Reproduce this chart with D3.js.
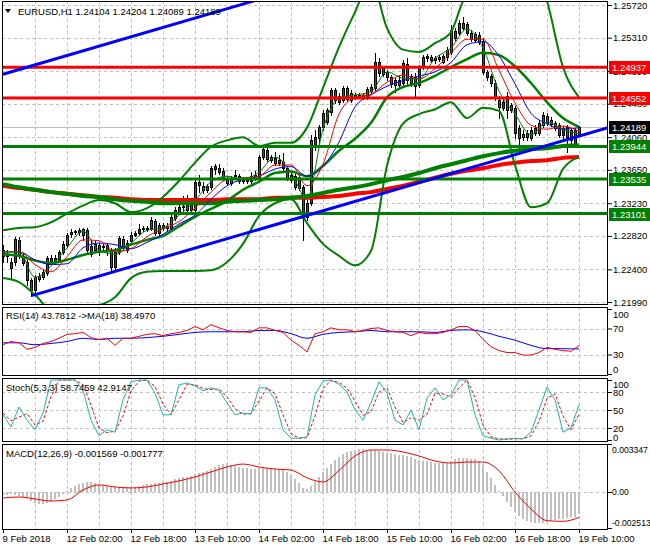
<!DOCTYPE html>
<html>
<head>
<meta charset="utf-8">
<script src="https://cdnjs.cloudflare.com/ajax/libs/d3/7.8.5/d3.min.js"></script>
<style>
  body { margin: 0; background: #fff; }
  text { font-family: "Liberation Sans", Arial, sans-serif; font-size: 9.5px; }
</style>
</head>
<body>
<div id="chart"></div>
<script>
// EURUSD H1, bars 9 Feb 2018 10:00 .. 19 Feb 2018 10:00
var open = [
  1.2264,1.2257,1.2242,1.2249,1.2277,1.2257,1.2249,1.2227,1.2214,1.2228,
  1.2230,1.2235,1.2251,1.2254,1.2252,1.2262,1.2271,1.2284,1.2287,1.2287,
  1.2283,1.2289,1.2269,1.2272,1.2264,1.2269,1.2271,1.2264,1.2243,1.2262,
  1.2278,1.2273,1.2275,1.2283,1.2286,1.2291,1.2292,1.2292,1.2301,1.2296,
  1.2296,1.2292,1.2292,1.2305,1.2313,1.2318,1.2322,1.2315,1.2315,1.2350,
  1.2345,1.2340,1.2343,1.2366,1.2367,1.2364,1.2355,1.2348,1.2357,1.2357,
  1.2352,1.2351,1.2351,1.2355,1.2355,1.2381,1.2390,1.2377,1.2380,1.2377,
  1.2375,1.2367,1.2359,1.2357,1.2356,1.2343,1.2306,1.2323,1.2394,1.2405,
  1.2419,1.2425,1.2438,1.2453,1.2458,1.2453,1.2468,1.2462,1.2456,1.2459,
  1.2459,1.2456,1.2464,1.2468,1.2500,1.2493,1.2488,1.2482,1.2478,1.2472,
  1.2474,1.2498,1.2483,1.2482,1.2472,1.2494,1.2506,1.2507,1.2503,1.2504,
  1.2500,1.2507,1.2513,1.2539,1.2537,1.2543,1.2548,1.2537,1.2536,1.2534,
  1.2527,1.2488,1.2483,1.2474,1.2453,1.2443,1.2458,1.2446,1.2443,1.2418,
  1.2410,1.2406,1.2405,1.2411,1.2411,1.2421,1.2433,1.2428,1.2424,1.2421,
  1.2409,1.2419,1.2415,1.2396,1.24104];
var high = [
  1.2271,1.2264,1.2254,1.2281,1.2281,1.2261,1.2252,1.2229,1.2233,1.2235,
  1.2239,1.2257,1.2258,1.2258,1.2264,1.2275,1.2286,1.2291,1.2289,1.2292,
  1.2292,1.2292,1.2275,1.2275,1.2273,1.2272,1.2273,1.2267,1.2267,1.2282,
  1.2282,1.2277,1.2287,1.2288,1.2297,1.2294,1.2294,1.2306,1.2303,1.2298,
  1.2298,1.2298,1.2308,1.2318,1.2327,1.2332,1.2333,1.2323,1.2355,1.2359,
  1.2350,1.2347,1.2370,1.2372,1.2372,1.2367,1.2357,1.2357,1.2365,1.2360,
  1.2356,1.2355,1.2362,1.2364,1.2384,1.2394,1.2392,1.2384,1.2387,1.2384,
  1.2386,1.2370,1.2361,1.2360,1.2359,1.2346,1.2327,1.2409,1.2415,1.2421,
  1.2440,1.2443,1.2468,1.2468,1.2462,1.2470,1.2470,1.2465,1.2462,1.2462,
  1.2462,1.2469,1.2473,1.2512,1.2506,1.2495,1.2490,1.2484,1.2480,1.2483,
  1.2503,1.2506,1.2485,1.2487,1.2497,1.2509,1.2511,1.2509,1.2508,1.2509,
  1.2511,1.2519,1.2547,1.2543,1.2553,1.2557,1.2551,1.2541,1.2538,1.2538,
  1.2531,1.2490,1.2485,1.2478,1.2458,1.2455,1.2463,1.2449,1.2445,1.2421,
  1.2415,1.2415,1.2419,1.2421,1.2428,1.2438,1.2436,1.2431,1.2426,1.2424,
  1.2420,1.2421,1.2418,1.2418,1.24204];
var low = [
  1.2249,1.2249,1.2228,1.2245,1.2254,1.2245,1.2220,1.2207,1.2212,1.2225,
  1.2228,1.2233,1.2247,1.2247,1.2249,1.2259,1.2268,1.2281,1.2284,1.2283,
  1.2277,1.2262,1.2257,1.2262,1.2258,1.2264,1.2258,1.2235,1.2239,1.2259,
  1.2264,1.2262,1.2272,1.2282,1.2283,1.2288,1.2288,1.2289,1.2283,1.2283,
  1.2289,1.2288,1.2289,1.2302,1.2311,1.2315,1.2312,1.2312,1.2312,1.2337,
  1.2336,1.2337,1.2341,1.2360,1.2360,1.2352,1.2346,1.2346,1.2355,1.2348,
  1.2348,1.2348,1.2348,1.2352,1.2352,1.2379,1.2376,1.2375,1.2371,1.2371,
  1.2365,1.2352,1.2350,1.2341,1.2340,1.2277,1.2302,1.2321,1.2390,1.2396,
  1.2415,1.2423,1.2434,1.2449,1.2448,1.2450,1.2451,1.2450,1.2454,1.2455,
  1.2454,1.2454,1.2462,1.2465,1.2483,1.2483,1.2478,1.2469,1.2463,1.2468,
  1.2470,1.2473,1.2470,1.2456,1.2469,1.2492,1.2502,1.2500,1.2499,1.2502,
  1.2499,1.2503,1.2511,1.2528,1.2534,1.2541,1.2534,1.2527,1.2526,1.2523,
  1.2485,1.2478,1.2470,1.2453,1.2430,1.2440,1.2430,1.2438,1.2405,1.2392,
  1.2402,1.2403,1.2402,1.2409,1.2409,1.2419,1.2421,1.2420,1.2415,1.2406,
  1.2405,1.2387,1.2396,1.2394,1.24089];
var close = [
  1.2257,1.2259,1.2249,1.2278,1.2258,1.2248,1.2227,1.2214,1.2230,1.2232,
  1.2237,1.2254,1.2254,1.2249,1.2262,1.2272,1.2283,1.2287,1.2288,1.2289,
  1.2291,1.2264,1.2259,1.2264,1.2271,1.2268,1.2263,1.2243,1.2262,1.2279,
  1.2267,1.2264,1.2283,1.2286,1.2291,1.2292,1.2291,1.2302,1.2286,1.2286,
  1.2292,1.2294,1.2306,1.2315,1.2318,1.2320,1.2315,1.2321,1.2350,1.2346,
  1.2340,1.2345,1.2367,1.2370,1.2362,1.2355,1.2348,1.2355,1.2359,1.2351,
  1.2351,1.2352,1.2357,1.2359,1.2381,1.2391,1.2379,1.2381,1.2374,1.2374,
  1.2367,1.2355,1.2352,1.2343,1.2342,1.2305,1.2323,1.2402,1.2406,1.2419,
  1.2436,1.2440,1.2465,1.2465,1.2450,1.2468,1.2454,1.2453,1.2459,1.2458,
  1.2456,1.2467,1.2469,1.2500,1.2487,1.2485,1.2482,1.2473,1.2472,1.2478,
  1.2499,1.2478,1.2474,1.2470,1.2494,1.2507,1.2508,1.2503,1.2506,1.2507,
  1.2508,1.2516,1.2541,1.2531,1.2549,1.2549,1.2537,1.2529,1.2528,1.2526,
  1.2488,1.2482,1.2474,1.2455,1.2444,1.2450,1.2440,1.2440,1.2411,1.2405,
  1.2406,1.2411,1.2415,1.2418,1.2424,1.2434,1.2424,1.2423,1.2418,1.2409,
  1.2418,1.2406,1.2402,1.2415,1.24189];

// indicator lines, read every 4th bar (0,4,...,144)
var maFast = [1.2262,1.2262,1.2230,1.2244,1.2267,1.2288,1.2264,1.2259,1.2273,1.2289,1.2292,1.2308,1.2326,1.2350,1.2357,1.2353,1.2362,1.2381,1.2362,1.2328,1.2416,1.2455,1.2459,1.2463,1.2488,1.2480,1.2479,1.2505,1.2518,1.2542,1.2518,1.2464,1.2435,1.2409,1.2425,1.2416,1.2410];
var maMid = [1.2262,1.2262,1.2246,1.2237,1.2256,1.2277,1.2276,1.2262,1.2266,1.2281,1.2291,1.2300,1.2317,1.2337,1.2353,1.2355,1.2357,1.2371,1.2371,1.2345,1.2372,1.2435,1.2456,1.2460,1.2475,1.2484,1.2479,1.2492,1.2512,1.2529,1.2529,1.2490,1.2449,1.2421,1.2416,1.2420,1.2413];
var maSlow = [1.2262,1.2262,1.2252,1.2246,1.2247,1.2267,1.2273,1.2271,1.2266,1.2274,1.2284,1.2297,1.2308,1.2328,1.2345,1.2353,1.2357,1.2366,1.2369,1.2357,1.2369,1.2400,1.2444,1.2459,1.2470,1.2477,1.2483,1.2488,1.2500,1.2522,1.2526,1.2508,1.2473,1.2436,1.2423,1.2416,1.2418];
var ma100 = [1.2347,1.2343,1.2340,1.2337,1.2335,1.2332,1.2331,1.2328,1.2326,1.2325,1.2323,1.2323,1.2323,1.2323,1.2325,1.2326,1.2327,1.2328,1.2330,1.2332,1.2336,1.2340,1.2343,1.2347,1.2352,1.2356,1.2361,1.2367,1.2372,1.2377,1.2382,1.2386,1.2389,1.2391,1.2392,1.2395,1.2396];
var ma200 = [1.2345,1.2342,1.2340,1.2337,1.2335,1.2333,1.2331,1.2330,1.2328,1.2327,1.2327,1.2327,1.2327,1.2327,1.2328,1.2328,1.2328,1.2330,1.2330,1.2330,1.2331,1.2332,1.2335,1.2337,1.2341,1.2345,1.2350,1.2355,1.2360,1.2364,1.2367,1.2371,1.2374,1.2376,1.2377,1.2380,1.2381];
var bbUpper = [1.2289,1.2292,1.2293,1.2299,1.2310,1.2320,1.2327,1.2323,1.2312,1.2317,1.2331,1.2351,1.2374,1.2394,1.2402,1.2406,1.2395,1.2399,1.2399,1.2418,1.2468,1.2519,1.2563,1.2603,1.2543,1.2516,1.2513,1.2524,1.2538,1.2585,1.2590,1.2595,1.2620,1.2629,1.2577,1.2494,1.2456];
var bbMiddle = [1.2259,1.2257,1.2251,1.2248,1.2252,1.2258,1.2262,1.2264,1.2271,1.2277,1.2282,1.2294,1.2306,1.2316,1.2326,1.2340,1.2350,1.2361,1.2363,1.2357,1.2370,1.2389,1.2404,1.2424,1.2456,1.2469,1.2474,1.2483,1.2494,1.2504,1.2512,1.2509,1.2495,1.2474,1.2450,1.2430,1.2419];
var bbLower = [1.2229,1.2224,1.2208,1.2189,1.2186,1.2192,1.2195,1.2205,1.2229,1.2237,1.2238,1.2238,1.2238,1.2239,1.2249,1.2272,1.2307,1.2323,1.2328,1.2298,1.2272,1.2257,1.2245,1.2263,1.2370,1.2423,1.2435,1.2441,1.2450,1.2430,1.2443,1.2439,1.2371,1.2318,1.2323,1.2366,1.2381];

// objects
var redLevels = [1.24937, 1.24552];
var greenLevels = [1.23944, 1.23535, 1.23101];
var bidPrice = 1.24189;
var trendLow = [[7.25, 1.2207], [151.25, 1.2418]];
var trendHigh = [[0, 1.2485], [64, 1.2579]];

// RSI(14) every 2nd bar, its MA(18) every 4th bar
var rsi = [45,50,48,38,41,47,50,55,61,62,64,56,53,55,44,55,55,58,61,62,59,62,64,67,73,68,76,71,67,65,65,64,71,71,67,64,52,44,34,62,65,71,68,68,65,67,70,71,67,65,64,59,64,62,62,64,68,73,73,67,53,42,36,33,33,29,29,33,41,38,36,35,43.78];
var rsiMa = [48,48,45,47,50,55,53,55,55,56,58,61,64,65,65,65,67,67,62,55,61,64,65,67,65,65,65,64,67,68,65,58,52,44,39,39,38.50];

// Stoch(5,3,3) every 2nd bar
var stochK = [42,22,55,33,17,45,100,100,100,100,83,33,7,17,13,67,97,100,100,78,42,42,92,95,90,82,87,83,62,42,45,43,87,87,67,17,3,3,5,75,98,100,93,80,50,33,62,97,78,33,25,50,17,70,87,67,75,100,100,42,7,3,0,2,3,2,13,50,88,67,13,20,58.75];
var stochD = [45,32,38,44,25,31,72,100,100,100,92,58,20,12,15,40,82,98,100,89,60,42,67,93,92,86,84,85,72,52,43,44,65,87,77,42,10,3,4,40,86,99,96,86,65,41,47,80,87,55,29,37,33,43,78,77,71,87,100,71,25,5,2,1,2,2,7,31,69,77,40,17,42.91];

// MACD(12,26,9): main per bar, signal every 4th bar
var macdMain = [
  -0.00021,-0.00021,-0.00016,-0.00021,-0.00028,-0.00033,-0.00044,-0.00061,-0.00074,-0.00084,
  -0.00086,-0.00079,-0.00067,-0.00051,-0.00033,-0.00014,0.00009,0.00026,0.00042,0.00056,
  0.00065,0.00072,0.00070,0.00065,0.00058,0.00051,0.00044,0.00037,0.00037,0.00033,
  0.00030,0.00033,0.00035,0.00037,0.00042,0.00047,0.00053,0.00058,0.00063,0.00065,
  0.00070,0.00072,0.00079,0.00088,0.00095,0.00102,0.00107,0.00114,0.00123,0.00130,
  0.00140,0.00149,0.00163,0.00177,0.00188,0.00195,0.00200,0.00191,0.00181,0.00172,
  0.00167,0.00165,0.00163,0.00163,0.00165,0.00167,0.00167,0.00165,0.00163,0.00160,
  0.00154,0.00142,0.00119,0.00088,0.00061,0.00030,0.00021,0.00042,0.00072,0.00107,
  0.00137,0.00165,0.00195,0.00223,0.00247,0.00265,0.00279,0.00288,0.00295,0.00298,
  0.00298,0.00295,0.00293,0.00293,0.00288,0.00281,0.00274,0.00270,0.00265,0.00260,
  0.00256,0.00251,0.00242,0.00233,0.00226,0.00219,0.00214,0.00209,0.00205,0.00200,
  0.00200,0.00205,0.00214,0.00228,0.00235,0.00237,0.00235,0.00233,0.00228,0.00219,
  0.00188,0.00142,0.00095,0.00049,0.00009,-0.00028,-0.00067,-0.00102,-0.00137,-0.00167,
  -0.00188,-0.00202,-0.00212,-0.00219,-0.00219,-0.00214,-0.00207,-0.00202,-0.00195,-0.00191,
  -0.00186,-0.00181,-0.00177,-0.00172,-0.001569];
var macdSignal = [-0.00042,-0.00035,-0.00049,-0.00063,-0.00056,0.00014,0.00049,0.00035,0.00028,0.00035,0.00056,0.00077,0.00105,0.00140,0.00174,0.00195,0.00174,0.00160,0.00153,0.00098,0.00070,0.00150,0.00251,0.00293,0.00293,0.00279,0.00251,0.00216,0.00202,0.00209,0.00209,0.00147,0.00000,-0.00119,-0.00200,-0.00205,-0.001777];

var priceTicks = [1.2572,1.2531,1.2489,1.2448,1.2406,1.2365,1.2323,1.2282,1.2240,1.2199];
var timeBars = [0,16,32,48,64,80,96,112,128,144];
var timeLabels = ["9 Feb 2018","12 Feb 02:00","12 Feb 18:00","13 Feb 10:00","14 Feb 02:00","14 Feb 18:00","15 Feb 10:00","16 Feb 02:00","16 Feb 18:00","19 Feb 10:00"];

var svg = d3.select("#chart").append("svg")
  .attr("width", 650)
  .attr("height", 550);

var left = 2, right = 608;
var pMain = {top: 1, bottom: 304},
    pRsi = {top: 307, bottom: 375},
    pSto = {top: 378, bottom: 441},
    pMacd = {top: 444, bottom: 529};

var x = d3.scaleLinear().domain([0, 144]).range([3, 579]);
var yP = d3.scaleLinear().domain([1.2199, 1.2572]).range([302, 5]);
var yR = d3.scaleLinear().domain([0, 100]).range([374, 309]);
var yS = d3.scaleLinear().domain([0, 100]).range([440, 380]);
var yM = d3.scaleLinear().domain([-0.002513, 0.003347]).range([528, 444]);

var green = "#008000", red = "#ff0000", blue = "#0000ff", grid = "#c0c0c0";

var defs = svg.append("defs");
function clip(id, p) {
  defs.append("clipPath").attr("id", id).append("rect")
    .attr("x", left).attr("y", p.top).attr("width", right - left).attr("height", p.bottom - p.top);
}
clip("cMain", pMain); clip("cRsi", pRsi); clip("cSto", pSto); clip("cMacd", pMacd);

var gridBars = d3.range(8, 145, 8);

function drawGrid(p, yScale, levels) {
  var g = svg.append("g").attr("shape-rendering", "crispEdges")
    .attr("stroke", grid).attr("stroke-dasharray", "3,3");
  g.selectAll(null).data(gridBars).enter().append("line")
    .attr("x1", d => Math.round(x(d)) + 0.5).attr("x2", d => Math.round(x(d)) + 0.5)
    .attr("y1", p.top).attr("y2", p.bottom);
  g.selectAll(null).data(levels).enter().append("line")
    .attr("x1", left).attr("x2", right)
    .attr("y1", d => Math.round(yScale(d)) + 0.5).attr("y2", d => Math.round(yScale(d)) + 0.5);
}
drawGrid(pMain, yP, priceTicks);
drawGrid(pRsi, yR, [70, 30]);
drawGrid(pSto, yS, [80, 50, 20]);
drawGrid(pMacd, yM, [0]);

// ---------- main chart ----------
var main = svg.append("g").attr("clip-path", "url(#cMain)");

main.append("line")
  .attr("x1", left).attr("x2", right)
  .attr("y1", Math.round(yP(bidPrice)) + 0.5).attr("y2", Math.round(yP(bidPrice)) + 0.5)
  .attr("stroke", grid).attr("shape-rendering", "crispEdges");

var bars = open.map(function(o, i) {
  return {i: i, o: o, h: high[i], l: low[i], c: close[i]};
});

var candle = main.append("g").attr("shape-rendering", "crispEdges")
  .selectAll("g").data(bars).enter().append("g");

candle.append("line")
  .attr("x1", d => Math.round(x(d.i)) + 0.5).attr("x2", d => Math.round(x(d.i)) + 0.5)
  .attr("y1", d => Math.round(yP(d.h))).attr("y2", d => Math.round(yP(d.l)) + 1)
  .attr("stroke", "#000");

candle.append("rect")
  .attr("x", d => Math.round(x(d.i)) - 1)
  .attr("y", d => Math.round(yP(Math.max(d.o, d.c))))
  .attr("width", 3)
  .attr("height", d => Math.max(1, Math.round(yP(Math.min(d.o, d.c))) - Math.round(yP(Math.max(d.o, d.c))) + 1))
  .attr("fill", "#000");

candle.filter(d => Math.round(yP(Math.min(d.o, d.c))) - Math.round(yP(Math.max(d.o, d.c))) >= 2)
  .append("rect")
  .attr("x", d => Math.round(x(d.i)))
  .attr("y", d => Math.round(yP(Math.max(d.o, d.c))) + 1)
  .attr("width", 1)
  .attr("height", d => Math.round(yP(Math.min(d.o, d.c))) - Math.round(yP(Math.max(d.o, d.c))) - 1)
  .attr("fill", d => d.c >= d.o ? green : red);

function priceLine(values, color, width) {
  var line = d3.line()
    .x((d, k) => x(k * 4))
    .y(d => yP(d))
    .curve(d3.curveMonotoneX);
  main.append("path").datum(values)
    .attr("d", line).attr("fill", "none")
    .attr("stroke", color).attr("stroke-width", width);
}
priceLine(ma200, red, 4);
priceLine(ma100, green, 4);
priceLine(bbUpper, green, 2);
priceLine(bbLower, green, 2);
priceLine(bbMiddle, green, 2.5);
priceLine(maSlow, blue, 1);
priceLine(maMid, red, 1);
priceLine(maFast, green, 1);

main.selectAll(null).data(redLevels.concat(greenLevels)).enter().append("line")
  .attr("x1", left).attr("x2", right)
  .attr("y1", d => yP(d)).attr("y2", d => yP(d))
  .attr("stroke", d => redLevels.indexOf(d) >= 0 ? red : green)
  .attr("stroke-width", 3);

var tline = d3.line().x(d => x(d[0])).y(d => yP(d[1]));
[trendLow, trendHigh].forEach(function(t) {
  main.append("path").datum(t).attr("d", tline)
    .attr("stroke", blue).attr("stroke-width", 3).attr("fill", "none");
});

// header
main.append("path").attr("d", "M5,9L11,9L8,13Z").attr("fill", "#000");
main.append("text").attr("x", 18).attr("y", 15)
  .text("EURUSD,H1  1.24104 1.24204 1.24089 1.24189");

// ---------- RSI ----------
var gR = svg.append("g").attr("clip-path", "url(#cRsi)");
gR.append("path").datum(rsiMa)
  .attr("d", d3.line().x((d, k) => x(k * 4)).y(d => yR(d)).curve(d3.curveMonotoneX))
  .attr("fill", "none").attr("stroke", blue).attr("stroke-width", 1);
gR.append("path").datum(rsi)
  .attr("d", d3.line().x((d, k) => x(k * 2)).y(d => yR(d)))
  .attr("fill", "none").attr("stroke", red).attr("stroke-width", 1);
gR.append("text").attr("x", 6).attr("y", 319).text("RSI(14) 43.7812  ->MA(18) 38.4970");

// ---------- Stochastic ----------
var gS = svg.append("g").attr("clip-path", "url(#cSto)");
gS.append("path").datum(stochD)
  .attr("d", d3.line().x((d, k) => x(k * 2)).y(d => yS(d)))
  .attr("fill", "none").attr("stroke", red).attr("stroke-width", 1).attr("stroke-dasharray", "3,2");
gS.append("path").datum(stochK)
  .attr("d", d3.line().x((d, k) => x(k * 2)).y(d => yS(d)))
  .attr("fill", "none").attr("stroke", "#20b2aa").attr("stroke-width", 1);
gS.append("text").attr("x", 6).attr("y", 391).text("Stoch(5,3,3) 58.7459 42.9147");

// ---------- MACD ----------
var gM = svg.append("g").attr("clip-path", "url(#cMacd)");
gM.append("g").attr("shape-rendering", "crispEdges")
  .selectAll("rect").data(macdMain).enter().append("rect")
  .attr("x", (d, i) => Math.round(x(i)) - 1)
  .attr("y", d => Math.round(Math.min(yM(d), yM(0))))
  .attr("width", 2)
  .attr("height", d => Math.max(1, Math.round(Math.abs(yM(d) - yM(0)))))
  .attr("fill", grid);
gM.append("path").datum(macdSignal)
  .attr("d", d3.line().x((d, k) => x(k * 4)).y(d => yM(d)).curve(d3.curveMonotoneX))
  .attr("fill", "none").attr("stroke", red).attr("stroke-width", 1);
gM.append("text").attr("x", 6).attr("y", 457).text("MACD(12,26,9) -0.001569 -0.001777");

// ---------- frames ----------
[pMain, pRsi, pSto, pMacd].forEach(function(p) {
  svg.append("rect")
    .attr("x", left + 0.5).attr("y", p.top + 0.5)
    .attr("width", right - left - 1).attr("height", p.bottom - p.top)
    .attr("fill", "none").attr("stroke", "#000").attr("shape-rendering", "crispEdges");
});

// ---------- axes ----------
function styleAxis(g) {
  g.select(".domain").remove();
  g.selectAll(".tick line").attr("stroke", "#000");
  g.selectAll("text").attr("fill", "#000")
    .style("font-family", "'Liberation Sans', Arial, sans-serif").style("font-size", "9.5px");
}

svg.append("g").attr("transform", "translate(" + right + ",0)")
  .call(d3.axisRight(yP).tickValues(priceTicks).tickFormat(d3.format(".5f")).tickSize(4).tickPadding(1))
  .call(styleAxis);

var axR = svg.append("g").attr("transform", "translate(" + right + ",0)")
  .call(d3.axisRight(yR).tickValues([100, 70, 30, 0]).tickSize(4).tickPadding(1))
  .call(styleAxis);
axR.selectAll("text").attr("dy", d => d === 100 ? "0.9em" : d === 0 ? "-0.2em" : "0.32em");

var axS = svg.append("g").attr("transform", "translate(" + right + ",0)")
  .call(d3.axisRight(yS).tickValues([100, 80, 50, 20, 0]).tickSize(4).tickPadding(1))
  .call(styleAxis);
axS.selectAll("text").attr("dy", d => d === 100 ? "0.75em" : d === 0 ? "0.05em" : "0.32em");

var macdTicks = [0.003347, 0, -0.002513];
var macdFmt = ["0.003347", "0.00", "-0.002513"];
var axM = svg.append("g").attr("transform", "translate(" + right + ",0)")
  .call(d3.axisRight(yM).tickValues(macdTicks).tickFormat((d, i) => macdFmt[i]).tickSize(4).tickPadding(0))
  .call(styleAxis);
axM.selectAll("text").style("font-size", "8.6px")
  .attr("dy", (d, i) => i === 0 ? "1.0em" : i === 2 ? "-0.35em" : "0.32em");

var axX = svg.append("g").attr("transform", "translate(0," + pMacd.bottom + ")")
  .call(d3.axisBottom(x).tickValues(timeBars).tickFormat((d, i) => timeLabels[i]).tickSize(4).tickPadding(2))
  .call(styleAxis);
axX.selectAll(".tick line").attr("shape-rendering", "crispEdges");
axX.selectAll("text").attr("text-anchor", "start").attr("x", -1);

// price labels on the scale
var tags = redLevels.map(v => ({v: v, c: red}))
  .concat([{v: bidPrice, c: "#000"}])
  .concat(greenLevels.map(v => ({v: v, c: green})));
var tag = svg.append("g").selectAll("g").data(tags).enter().append("g");
tag.append("rect")
  .attr("x", right + 1).attr("y", d => Math.round(yP(d.v)) - 6)
  .attr("width", 42).attr("height", 13)
  .attr("fill", d => d.c);
tag.append("text")
  .attr("x", right + 4).attr("y", d => Math.round(yP(d.v)) + 4)
  .attr("fill", "#fff")
  .text(d => d3.format(".5f")(d.v));
</script>
</body>
</html>
